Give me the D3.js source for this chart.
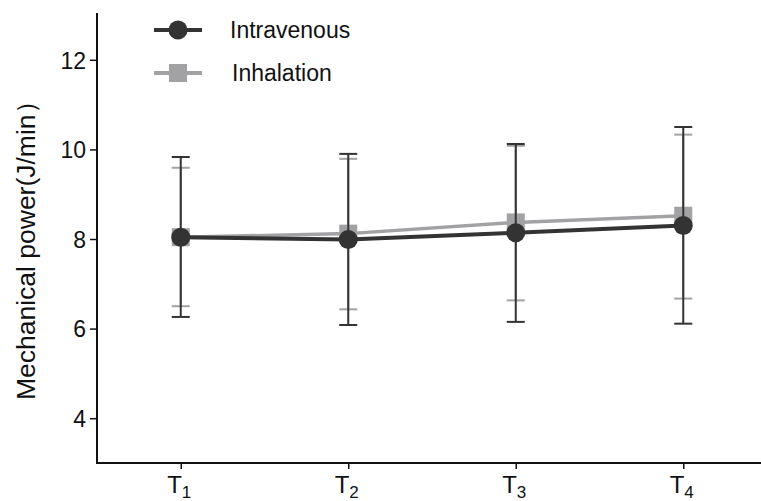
<!DOCTYPE html>
<html><head><meta charset="utf-8">
<script src="https://cdn.jsdelivr.net/npm/d3@7"></script>
<style>body{margin:0;background:#fff}svg{display:block;font-family:"Liberation Sans",Arial,sans-serif}</style>
</head><body><svg id="c" width="761" height="501"></svg>
<script>
const categories = ["1","2","3","4"];
const yTicks = [4,6,8,10,12];
const intraMean = [8.04, 7.99, 8.14, 8.30];
const intraUpper = [9.83, 9.90, 10.12, 10.50];
const intraLower = [6.26, 6.08, 6.15, 6.11];
const inhalMean = [8.04, 8.12, 8.37, 8.52];
const inhalUpper = [9.59, 9.79, 10.08, 10.33];
const inhalLower = [6.50, 6.43, 6.63, 6.67];

const svg = d3.select("#c");
const x = d3.scalePoint().domain(categories).range([97, 767]).padding(0.5);
const y = d3.scaleLinear().domain([3, 13]).range([463, 15]);

// axes
const ya = svg.append("g").attr("transform","translate(97,0)")
  .call(d3.axisLeft(y).tickValues(yTicks).tickSize(7).tickPadding(4).tickFormat(d3.format("d")));
ya.select(".domain").attr("stroke","#111").attr("stroke-width",2).attr("d","M0,463V13");
ya.selectAll(".tick line").attr("stroke","#111").attr("stroke-width",1.5);
ya.selectAll(".tick text").attr("font-size",23).attr("fill","#111").attr("dy","0.36em");

const xa = svg.append("g").attr("transform","translate(0,463)")
  .call(d3.axisBottom(x).tickSize(6).tickFormat(""));
xa.select(".domain").attr("stroke","#111").attr("stroke-width",2).attr("d","M96,0H761");
xa.selectAll(".tick line").attr("stroke","#111").attr("stroke-width",1.5);
xa.selectAll(".tick").append("text").attr("y",30).attr("x",-2).attr("text-anchor","middle").attr("fill","#111")
  .attr("font-size",24).each(function(d){
    const t = d3.select(this);
    t.append("tspan").text("T");
    t.append("tspan").attr("font-size",17).attr("dy",5).text(d);
  });

svg.append("text").attr("transform","translate(35,244) rotate(-90)").attr("text-anchor","middle")
  .attr("font-size",26).attr("fill","#111").attr("textLength",312).attr("lengthAdjust","spacingAndGlyphs")
  .text("Mechanical power(J/min\uFF09");

function drawSeries(mean, upper, lower, color, lw, shape) {
  const g = svg.append("g");
  const idx = d3.range(categories.length);
  g.append("path").datum(idx).attr("fill","none").attr("stroke",color).attr("stroke-width",lw)
    .attr("d", d3.line().x(i=>x(categories[i])).y(i=>y(mean[i])));
  idx.forEach(i=>{
    const cx = x(categories[i]);
    g.append("line").attr("x1",cx).attr("x2",cx).attr("y1",y(upper[i])).attr("y2",y(lower[i]))
      .attr("stroke",color).attr("stroke-width",2);
    [upper[i], lower[i]].forEach(v=>{
      g.append("line").attr("x1",cx-9).attr("x2",cx+9).attr("y1",y(v)).attr("y2",y(v))
        .attr("stroke",color).attr("stroke-width",2);
    });
    if (shape==="circle") g.append("circle").attr("cx",cx).attr("cy",y(mean[i])).attr("r",9.5).attr("fill",color);
    else g.append("rect").attr("x",cx-9).attr("y",y(mean[i])-9).attr("width",18).attr("height",18).attr("fill",color);
  });
}
drawSeries(inhalMean, inhalUpper, inhalLower, "#a2a2a5", 3.5, "rect");
drawSeries(intraMean, intraUpper, intraLower, "#333333", 4, "circle");

// legend
const leg = svg.append("g");
const items = [{name:"Intravenous", color:"#333333", shape:"circle", yy:30, tx:230},
               {name:"Inhalation", color:"#a2a2a5", shape:"rect", yy:73, tx:232}];
items.forEach(it=>{
  leg.append("line").attr("x1",154).attr("x2",202).attr("y1",it.yy).attr("y2",it.yy)
    .attr("stroke",it.color).attr("stroke-width",4);
  if (it.shape==="circle") leg.append("circle").attr("cx",178).attr("cy",it.yy).attr("r",9.5).attr("fill",it.color);
  else leg.append("rect").attr("x",169).attr("y",it.yy-9).attr("width",18).attr("height",18).attr("fill",it.color);
  leg.append("text").attr("x",it.tx).attr("y",it.yy).attr("dy","0.36em").attr("font-size",23)
    .attr("fill","#111").text(it.name);
});
</script></body></html>
